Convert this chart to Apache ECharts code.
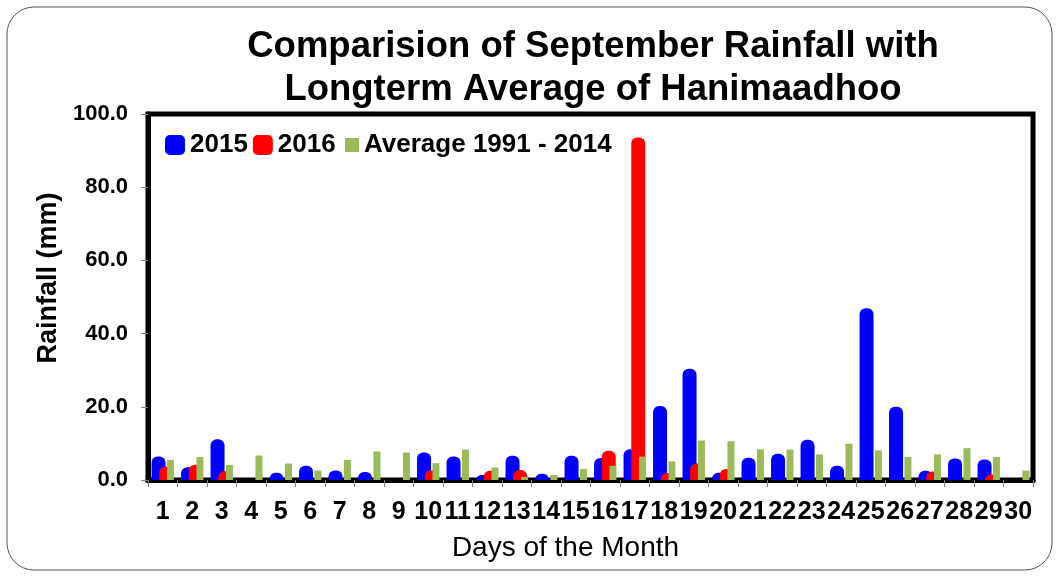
<!DOCTYPE html>
<html>
<head>
<meta charset="utf-8">
<script src="https://cdn.jsdelivr.net/npm/echarts@6/dist/echarts.min.js"></script>
<style>
  html, body { margin: 0; padding: 0; background: #fff; }
  #chart { width: 1060px; height: 577px; }
</style>
</head>
<body>
<div id="chart"></div>
<script>
// days of September
const days = ['1', '2', '3', '4', '5', '6', '7', '8', '9', '10', '11', '12', '13', '14', '15',
  '16', '17', '18', '19', '20', '21', '22', '23', '24', '25', '26', '27', '28', '29', '30'];

// rainfall (mm)
const rain2015 = [6.4, 3.5, 11.1, 0, 2.0, 3.9, 2.6, 2.2, 0, 7.5, 6.4, 1.4, 6.6, 1.7, 6.6,
  6.0, 8.4, 20.2, 30.4, 2.0, 6.1, 7.2, 11.0, 3.9, 46.9, 20.0, 2.5, 5.9, 5.6, 0];
const rain2016 = [3.7, 4.2, 2.4, 0, 0, 0, 0, 0, 0, 2.6, 0, 2.5, 2.7, 0, 0,
  8.0, 93.6, 1.9, 4.5, 3.0, 0, 0, 0, 0, 0, 0, 2.3, 0, 1.5, 0];
const rainAvg = [5.5, 6.3, 4.1, 6.7, 4.5, 2.6, 5.5, 7.8, 7.5, 4.6, 8.3, 3.4, 0.8, 1.4, 3.0,
  3.9, 6.4, 5.1, 10.8, 10.6, 8.4, 8.3, 7.0, 9.9, 8.1, 6.3, 7.0, 8.7, 6.3, 2.6];

const font = 'Liberation Sans, Arial, sans-serif';

const chart = echarts.init(document.getElementById('chart'));

const option = {
  backgroundColor: '#fff',
  animation: false,
  graphic: [{
    type: 'rect',
    shape: {x: 7, y: 7, width: 1045, height: 563, r: 27},
    style: {fill: 'none', stroke: '#555', lineWidth: 1},
    silent: true
  }],
  title: {
    text: 'Comparision of September Rainfall with\nLongterm Average of Hanimaadhoo',
    left: 593,
    top: 25,
    padding: 0,
    textAlign: 'center',
    textStyle: {
      fontFamily: font,
      fontWeight: 'bold',
      fontSize: 36.5,
      lineHeight: 43,
      color: '#000'
    }
  },
  legend: [{
    data: ['2015', '2016'],
    left: 165,
    top: 132,
    padding: 0,
    icon: 'roundRect',
    itemWidth: 20,
    itemHeight: 20,
    itemGap: 5,
    textStyle: {fontFamily: font, fontWeight: 'bold', fontSize: 26, color: '#000'}
  }, {
    data: ['Average 1991 - 2014'],
    left: 345,
    top: 132,
    padding: 0,
    icon: 'rect',
    itemWidth: 14,
    itemHeight: 14,
    textStyle: {fontFamily: font, fontWeight: 'bold', fontSize: 26, color: '#000'}
  }],
  grid: {
    left: 148,
    right: 27,
    top: 114,
    bottom: 97,
    show: true,
    borderColor: '#000',
    borderWidth: 5,
    backgroundColor: 'transparent'
  },
  xAxis: {
    type: 'category',
    data: days,
    name: 'Days of the Month',
    nameLocation: 'middle',
    nameGap: 54,
    nameTextStyle: {
      fontFamily: font, fontSize: 28, color: '#000', padding: [0, 50, 0, 0]
    },
    axisLine: {show: true, lineStyle: {color: '#000', width: 5}},
    axisTick: {show: true, length: 7, lineStyle: {color: '#808080', width: 1}},
    axisLabel: {
      interval: 0,
      margin: 20,
      fontFamily: font,
      fontWeight: 'bold',
      fontSize: 25,
      color: '#000'
    }
  },
  yAxis: {
    type: 'value',
    min: 0,
    max: 100,
    interval: 20,
    name: 'Rainfall (mm)',
    nameLocation: 'middle',
    nameGap: 85,
    nameTextStyle: {
      fontFamily: font, fontWeight: 'bold', fontSize: 27, color: '#000', padding: [0, 0, 0, 38]
    },
    axisLine: {show: true, lineStyle: {color: '#000', width: 5}},
    axisTick: {show: true, length: 7, lineStyle: {color: '#808080', width: 1}},
    splitLine: {show: false},
    axisLabel: {
      margin: 20,
      fontFamily: font,
      fontWeight: 'bold',
      fontSize: 22,
      color: '#000',
      formatter: v => v.toFixed(1)
    }
  },
  series: [{
    name: '2015',
    type: 'bar',
    data: rain2015,
    barWidth: 14,
    barGap: '-45%',
    itemStyle: {color: '#0000ff', borderRadius: [6, 6, 0, 0]}
  }, {
    name: '2016',
    type: 'bar',
    data: rain2016,
    barWidth: 14,
    barGap: '-45%',
    itemStyle: {color: '#ff0000', borderRadius: [6, 6, 0, 0]}
  }, {
    name: 'Average 1991 - 2014',
    type: 'bar',
    data: rainAvg,
    barWidth: 7,
    barGap: '-45%',
    itemStyle: {color: '#9bbb59'}
  }]
};

chart.setOption(option);
</script>
</body>
</html>
